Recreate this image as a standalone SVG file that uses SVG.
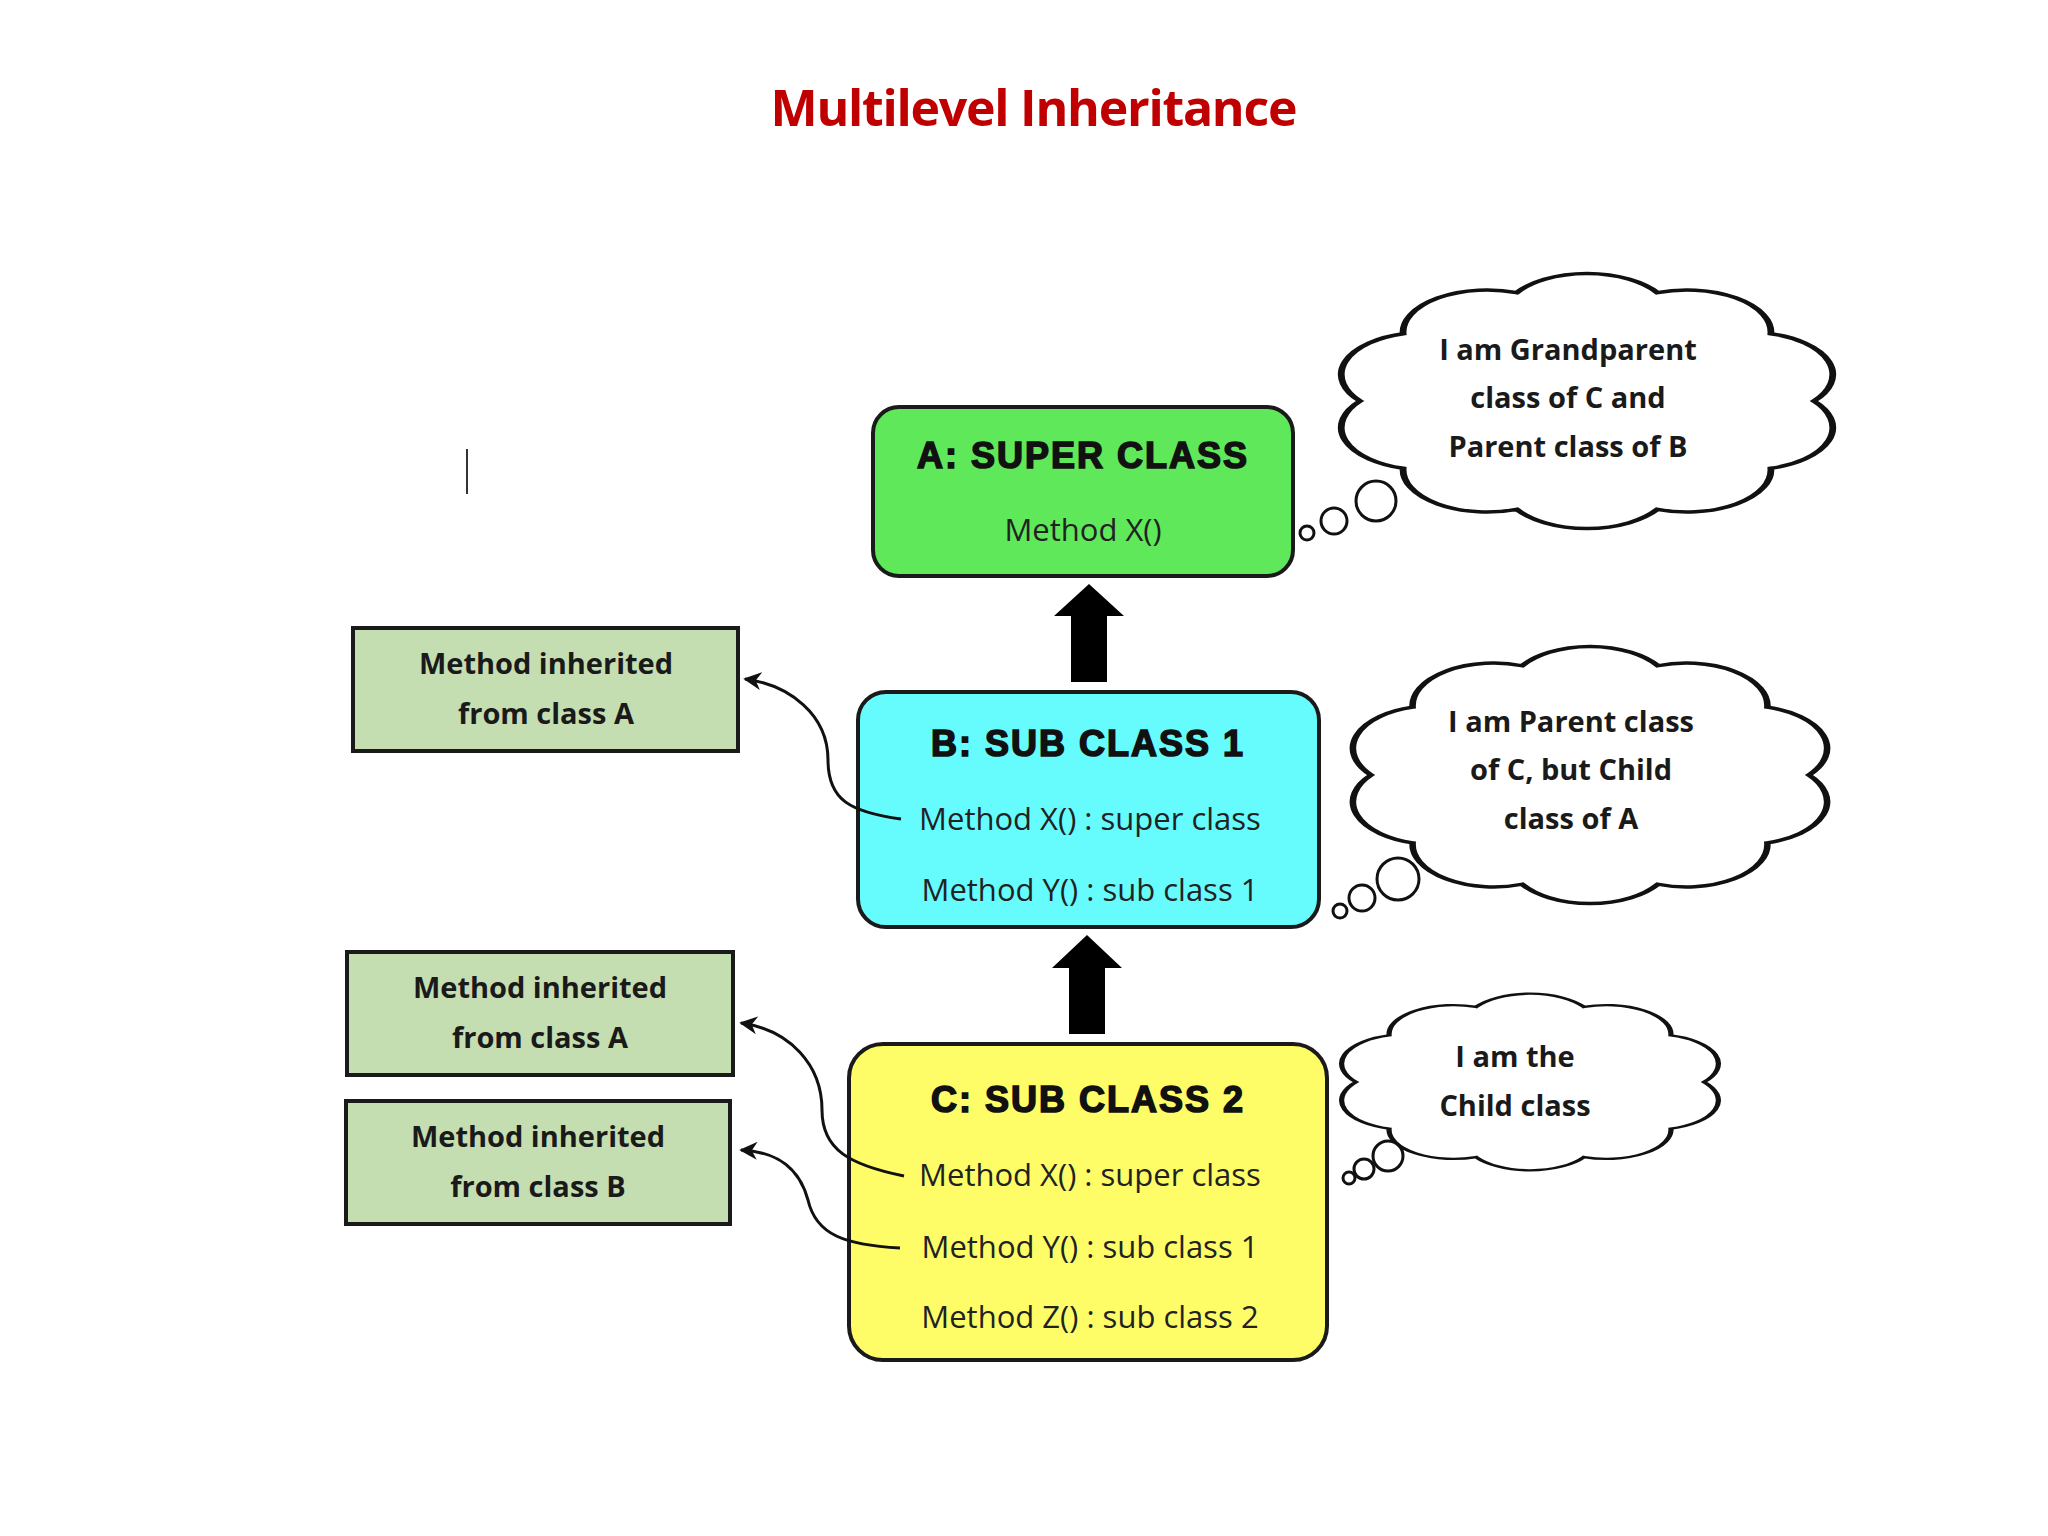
<svg xmlns="http://www.w3.org/2000/svg" width="2048" height="1536" viewBox="0 0 2048 1536">
<style>
.box{stroke:#1a1a1a;stroke-width:4}
.gbox{fill:#c5deb1;stroke:#1a1a1a;stroke-width:4}
.ttl{font-family:"Liberation Sans",Arial,sans-serif;font-weight:900;font-size:36px;text-anchor:middle;fill:#111;letter-spacing:2px;stroke:#111;stroke-width:1.6}
.m{font-family:"Open Sans","Noto Sans",sans-serif;font-size:31px;text-anchor:middle;fill:#222}
.b{font-family:"Open Sans","Noto Sans",sans-serif;font-weight:bold;font-size:29px;text-anchor:middle;fill:#1a1a1a}
.cl{fill:#fff;stroke:#111;stroke-width:3;vector-effect:non-scaling-stroke}
.bub{fill:#fff;stroke:#111;stroke-width:3}
.con{fill:none;stroke:#111;stroke-width:3}
</style>
<defs>
<path id="cloud" d="M100,0 A37,37 0 0 1 81,59 A37,37 0 0 1 31,95 A37,37 0 0 1 -31,95 A37,37 0 0 1 -81,59 A37,37 0 0 1 -100,0 A37,37 0 0 1 -81,-59 A37,37 0 0 1 -31,-95 A37,37 0 0 1 31,-95 A37,37 0 0 1 81,-59 A37,37 0 0 1 100,0 Z"/>
<marker id="ah" viewBox="0 0 10 10" refX="9" refY="5" markerWidth="18" markerHeight="18" orient="auto" markerUnits="userSpaceOnUse">
<path d="M0,0 L10,5 L0,10 L3,5 Z" fill="#111"/>
</marker>
</defs>
<rect width="2048" height="1536" fill="#fff"/>
<text x="1034" y="126" font-family="Open Sans,Noto Sans,sans-serif" font-weight="bold" font-size="50" fill="#c00000" text-anchor="middle" textLength="527">Multilevel Inheritance</text>
<line x1="467" y1="449" x2="467" y2="494" stroke="#333" stroke-width="2"/>

<g id="nodeA">
<rect class="box" x="873" y="407" width="420" height="169" rx="26" fill="#5ee85a"/>
<text class="ttl" x="1083" y="468">A: SUPER CLASS</text>
<text class="m" x="1083" y="541">Method X()</text>
</g>
<g id="nodeB">
<rect class="box" x="858" y="692" width="461" height="235" rx="28" fill="#66fbfd"/>
<text class="ttl" x="1088" y="756">B: SUB CLASS 1</text>
<text class="m" x="1090" y="830">Method X() : super class</text>
<text class="m" x="1090" y="901">Method Y() : sub class 1</text>
</g>
<g id="nodeC">
<rect class="box" x="849" y="1044" width="478" height="316" rx="34" fill="#fefd68"/>
<text class="ttl" x="1088" y="1112">C: SUB CLASS 2</text>
<text class="m" x="1090" y="1186">Method X() : super class</text>
<text class="m" x="1090" y="1258">Method Y() : sub class 1</text>
<text class="m" x="1090" y="1328">Method Z() : sub class 2</text>
</g>
<g id="inh1">
<rect class="gbox" x="353" y="628" width="385" height="123"/>
<text class="b" x="546" y="674">Method inherited</text>
<text class="b" x="546" y="724">from class A</text>
</g>
<g id="inh2">
<rect class="gbox" x="347" y="952" width="386" height="123"/>
<text class="b" x="540" y="998">Method inherited</text>
<text class="b" x="540" y="1048">from class A</text>
</g>
<g id="inh3">
<rect class="gbox" x="346" y="1101" width="384" height="123"/>
<text class="b" x="538" y="1147">Method inherited</text>
<text class="b" x="538" y="1197">from class B</text>
</g>

<g id="cloud1">
<use href="#cloud" class="cl" transform="translate(1587,401) scale(2.27,1.14)"/>
<circle class="bub" cx="1376" cy="501" r="20"/>
<circle class="bub" cx="1334" cy="521" r="13"/>
<circle class="bub" cx="1307" cy="533" r="7"/>
<text class="b" x="1568" y="360">I am Grandparent</text>
<text class="b" x="1568" y="408">class of C and</text>
<text class="b" x="1568" y="457">Parent class of B</text>
</g>
<g id="cloud2">
<use href="#cloud" class="cl" transform="translate(1590,775) scale(2.19,1.15)"/>
<circle class="bub" cx="1398" cy="879" r="21"/>
<circle class="bub" cx="1362" cy="898" r="13"/>
<circle class="bub" cx="1340" cy="911" r="7"/>
<text class="b" x="1571" y="732">I am Parent class</text>
<text class="b" x="1571" y="780">of C, but Child</text>
<text class="b" x="1571" y="829">class of A</text>
</g>
<g id="cloud3">
<use href="#cloud" class="cl" transform="translate(1530,1082) scale(1.74,0.79)"/>
<circle class="bub" cx="1388" cy="1156" r="15"/>
<circle class="bub" cx="1364" cy="1169" r="10"/>
<circle class="bub" cx="1349" cy="1178" r="6"/>
<text class="b" x="1515" y="1067">I am the</text>
<text class="b" x="1515" y="1116">Child class</text>
</g>

<g id="connectors">
<polygon points="1071,682 1107,682 1107,616 1124,616 1089,584 1054,616 1071,616" fill="#000"/>
<polygon points="1069,1034 1105,1034 1105,968 1122,968 1087,935 1052,968 1069,968" fill="#000"/>
<path class="con" marker-end="url(#ah)" d="M901,819 C850,812 828,800 828,760 C828,715 790,685 745,679"/>
<path class="con" marker-end="url(#ah)" d="M904,1176 C850,1165 822,1150 822,1110 C822,1065 790,1030 741,1023"/>
<path class="con" marker-end="url(#ah)" d="M900,1248 C845,1245 816,1235 808,1200 C800,1170 780,1152 741,1150"/>
</g>
</svg>
